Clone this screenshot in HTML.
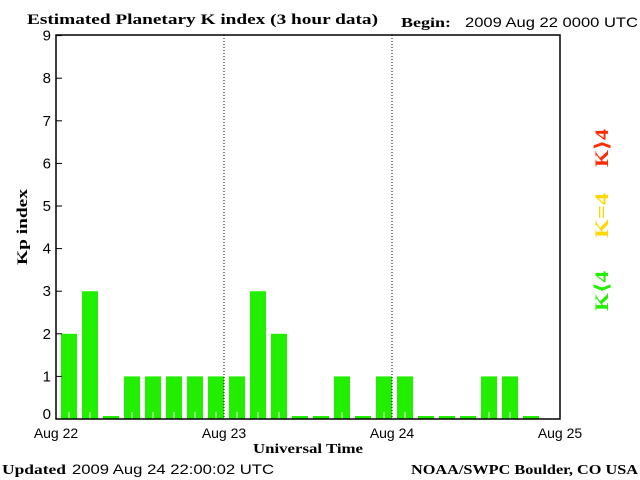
<!DOCTYPE html>
<html><head><meta charset="utf-8"><style>
body{margin:0;background:#fff;}
svg{display:block;}
.s{font-family:"Liberation Sans","DejaVu Sans",sans-serif;}
.b{font-family:"Liberation Serif","DejaVu Serif",serif;font-weight:bold;}
</style></head><body>
<svg id="chart" width="640" height="480" xmlns="http://www.w3.org/2000/svg">
<text class="b" x="27" y="24" font-size="15" textLength="351" lengthAdjust="spacingAndGlyphs">Estimated Planetary K index (3 hour data)</text>
<text class="b" x="401" y="27" font-size="14" textLength="50" lengthAdjust="spacingAndGlyphs">Begin:</text>
<text class="s" x="465" y="27" font-size="14" textLength="173" lengthAdjust="spacingAndGlyphs">2009 Aug 22 0000 UTC</text>
<g id="plot"></g>
<text class="b" x="253" y="453" font-size="14" textLength="110" lengthAdjust="spacingAndGlyphs">Universal Time</text>
<text class="b" transform="translate(27,265) rotate(-90)" font-size="15" textLength="76" lengthAdjust="spacingAndGlyphs">Kp index</text>
<text class="b" x="2" y="474" font-size="14" textLength="64" lengthAdjust="spacingAndGlyphs">Updated</text>
<text class="s" x="72" y="474" font-size="14" textLength="202" lengthAdjust="spacingAndGlyphs">2009 Aug 24 22:00:02 UTC</text>
<text class="b" x="411" y="474" font-size="14" textLength="227" lengthAdjust="spacingAndGlyphs">NOAA/SWPC Boulder, CO USA</text>
<text class="b" transform="translate(608,167) rotate(-90)" font-size="19" fill="#ff2a00" font-weight="normal" textLength="38" lengthAdjust="spacingAndGlyphs">K⟩4</text>
<text class="b" transform="translate(608,238) rotate(-90)" font-size="19" fill="#ffd700" font-weight="normal" textLength="45" lengthAdjust="spacingAndGlyphs">K=4</text>
<text class="b" transform="translate(608,311) rotate(-90)" font-size="19" fill="#22ee00" font-weight="normal" textLength="40" lengthAdjust="spacingAndGlyphs">K⟨4</text>
</svg>
<script>
const kpValues=[2,3,0,1,1,1,1,1,1,3,2,0,0,1,0,1,1,0,0,0,1,1,0];
const yTicks=[0,1,2,3,4,5,6,7,8,9];
const dayLabels=["Aug 22","Aug 23","Aug 24","Aug 25"];
const NS="http://www.w3.org/2000/svg";
const g=document.getElementById('plot');
const X0=56,X1=560,Y0=419,UNIT=42.6,BIN=(X1-X0)/24;
const x=i=>X0+i*BIN;
const y=v=>Y0-v*UNIT;
function mk(t,a){const e=document.createElementNS(NS,t);for(const k in a)e.setAttribute(k,a[k]);g.appendChild(e);return e;}
kpValues.forEach((v,i)=>{
  const h=Math.max(v*UNIT,3);
  const col=v>4?'#ff2a00':(v==4?'#ffd700':'#22ee00');
  const r=mk('rect',{x:x(i)+5,y:Y0-h,width:16,height:h,fill:col});
  
  
  if(v>0){const l=mk('line',{x1:x(i)+13,x2:x(i)+13,y1:Y0,y2:Y0-7,stroke:'#fff'});
  
  }
});
[1,2].forEach(d=>{const l=mk('line',{x1:X0+d*168,x2:X0+d*168,y1:35,y2:Y0,stroke:'#000','stroke-dasharray':'1,2'});

});
const box=mk('rect',{x:X0,y:35,width:X1-X0,height:Y0-35,fill:'none',stroke:'#000','stroke-width':1.5});


yTicks.forEach(t=>{
  const l=mk('line',{x1:X0,x2:X0+6,y1:y(t),y2:y(t),stroke:'#000'});
  
  
  const tx=mk('text',{x:X0-5,y:y(t)+(t==0?0:5),'font-size':15,'text-anchor':'end',class:'s'});
  tx.textContent=t;
  
  
});
dayLabels.forEach((d,i)=>{
  const tx=mk('text',{x:X0+i*168,y:438,'font-size':14,'text-anchor':'middle',class:'s'});
  tx.textContent=d;
  
  
});
</script>
</body></html>
